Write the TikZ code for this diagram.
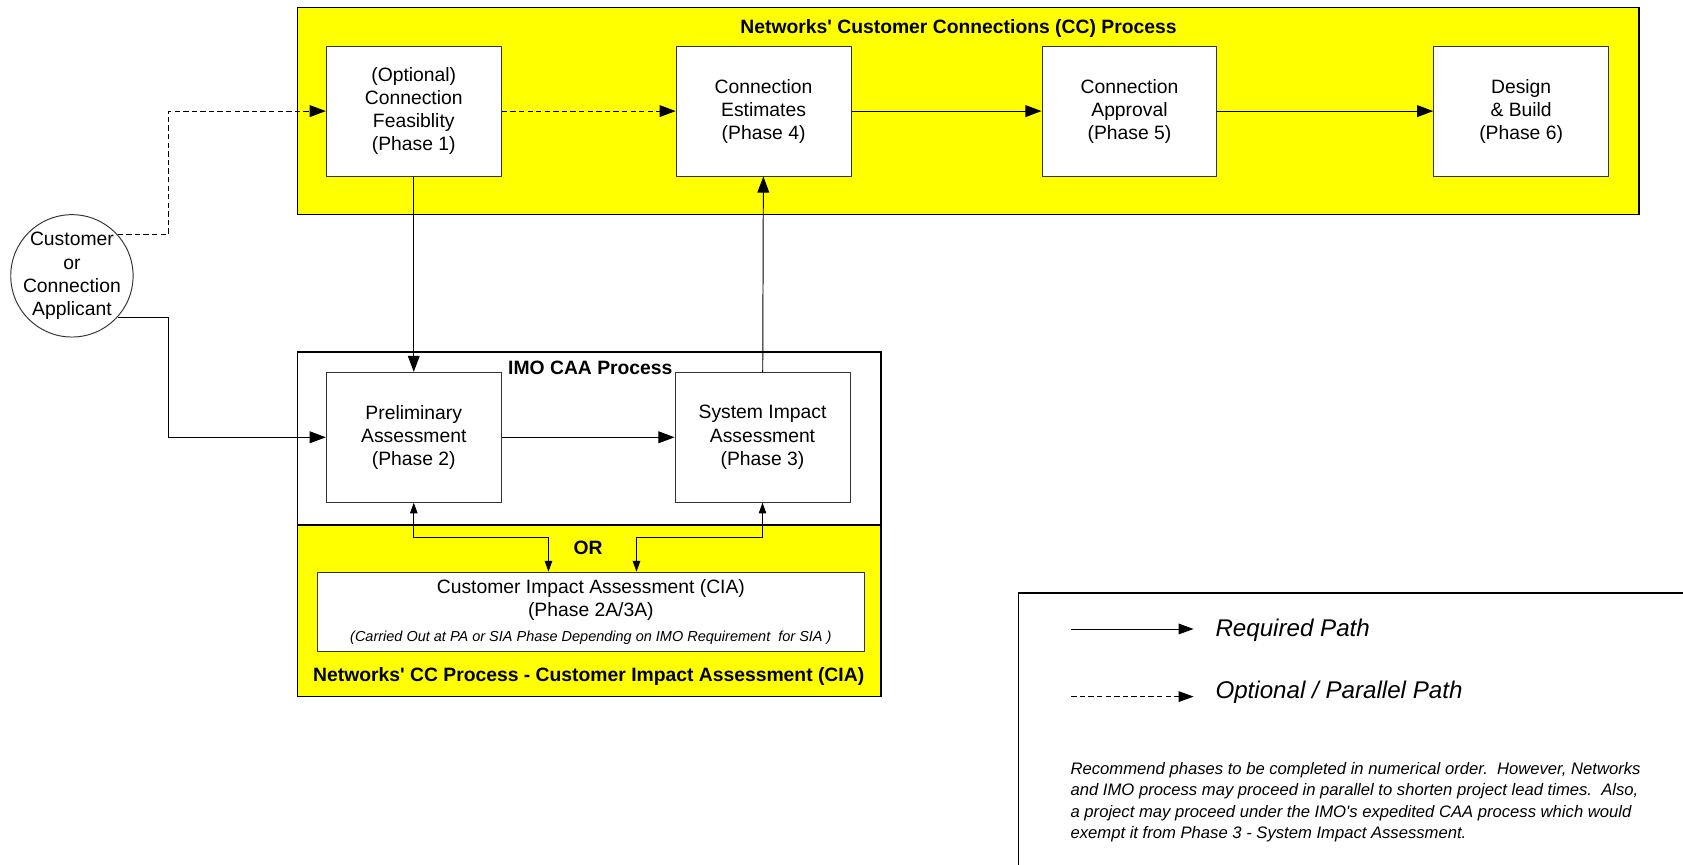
\documentclass[tikz,border=0pt]{standalone}
\usepackage{fontspec}
\setmainfont{Liberation Sans}
\usepackage{tikz}
\usetikzlibrary{arrows.meta,positioning}
\definecolor{Panel}{HTML}{FFFF00}
\definecolor{Edge}{HTML}{333333}

\begin{document}
\begin{tikzpicture}[x=1pt,y=-1pt,line width=0.9pt,font=\fontsize{18}{21.5}\selectfont,>={Triangle[length=15pt,width=11pt]}]
  \tikzstyle{phase}=[draw=Edge,fill=white,line width=0.9pt,minimum width=163pt,minimum height=121pt,align=center,inner sep=0pt]
  \tikzstyle{panel}=[draw,line width=1.4pt,inner sep=0pt]
  \tikzstyle{ttl}=[font=\fontsize{18}{21.5}\selectfont\bfseries,inner sep=0pt]
  \tikzstyle{opt}=[dash pattern=on 5pt off 3pt]
  \tikzstyle{both}=[{Triangle[length=10pt,width=7pt]}-{Triangle[length=10pt,width=7pt]}]
  \tikzstyle{key}=[font=\fontsize{22.5}{27}\selectfont\itshape,anchor=west,inner sep=0pt]
  \clip (0,0) rectangle (1568,805);
  % panels
  \node[panel,fill=Panel,minimum width=1250pt,minimum height=193pt] (cc) at (902,103.5) {};
  \node[panel,fill=white,minimum width=544pt,minimum height=161pt] (imo) at (549,408.5) {};
  \node[panel,fill=Panel,minimum width=544pt,minimum height=160pt] (cia) at (549,569) {};
  \node[ttl] (cctitle) at (893,27) {Networks\textquotesingle\ Customer Connections (CC) Process};
  \node[ttl] (imotitle) at (550,343) {IMO CAA Process};
  \node[ttl] (ortxt) at (548,510) {OR};
  \node[ttl] (ciatitle) at (548.5,630) {Networks\textquotesingle\ CC Process - Customer Impact Assessment (CIA)};
  % phases
  \node[phase] (p1) at (385.5,103.5) {(Optional)\\Connection\\Feasiblity\\(Phase 1)};
  \node[phase,right=162pt of p1] (p4) {Connection\\Estimates\\(Phase 4)};
  \node[phase,right=177pt of p4] (p5) {Connection\\Approval\\(Phase 5)};
  \node[phase,right=201pt of p5] (p6) {Design\\\& Build\\(Phase 6)};
  \node[phase,below=182pt of p1] (p2) {Preliminary\\Assessment\\(Phase 2)};
  \node[phase,right=161pt of p2] (p3) {System Impact\\Assessment\\(Phase 3)};
  \node[draw=Edge,fill=white,line width=0.9pt,minimum width=509pt,minimum height=74pt,align=center,inner sep=0pt] (ciabox) at (550.5,570)
    {Customer Impact Assessment (CIA)\\(Phase 2A/3A)\\[1.5pt]{\fontsize{13.5}{16}\selectfont\itshape (Carried Out at PA or SIA Phase Depending on IMO Requirement\ \ for SIA )}};
  \node[draw=Edge,circle,fill=white,line width=0.9pt,minimum size=114pt,inner sep=0pt] (cust) at (67,257) {};
  \node[align=center,inner sep=0pt] (custtxt) at (cust) {Customer\\or\\Connection\\Applicant};
  % connectors
  \coordinate (bend) at (157,0);
  \coordinate (k2) at (511,501);
  \coordinate (k3) at (593,501);
  \draw[opt,->] (cust.42) -- (cust.42 -| bend) |- (p1.west);
  \draw[->] (cust.-42) -- (cust.-42 -| bend) |- (p2.west);
  \draw[opt,->] (p1) -- (p4);
  \draw[->] (p4) -- (p5);
  \draw[->] (p5) -- (p6);
  \draw[->] (p1) -- (p2);
  \draw[->] (p2) -- (p3);
  \draw[->] (p3) -- (p4);
  \draw[both] (p2.south) |- (k2) -- (k2 |- ciabox.north);
  \draw[both] (p3.south) |- (k3) -- (k3 |- ciabox.north);
  % legend
  \node[draw,line width=1.2pt,anchor=north west,minimum width=700pt,minimum height=400pt] (legend) at (948,552) {};
  \coordinate (r0) at (998,586);
  \coordinate (r1) at (1112,586);
  \coordinate (o0) at (998,649);
  \coordinate (o1) at (1112,649);
  \draw[-{Triangle[length=14pt,width=10pt]}] (r0) -- (r1);
  \draw[opt,-{Triangle[length=14pt,width=10pt]}] (o0) -- (o1);
  \node[key] (reqtxt) at (1132,587) {Required Path};
  \node[key] (opttxt) at (1132,645) {Optional / Parallel Path};
  \node[anchor=north west,align=left,font=\fontsize{15.5}{19.8}\selectfont\itshape,inner sep=0pt] (note) at (997,710)
    {Recommend phases to be completed in numerical order.\ \ However, Networks\\
     and IMO process may proceed in parallel to shorten project lead times.\ \ Also,\\
     a project may proceed under the IMO\textquotesingle s expedited CAA process which would\\
     exempt it from Phase 3 - System Impact Assessment.};
\end{tikzpicture}
\end{document}
